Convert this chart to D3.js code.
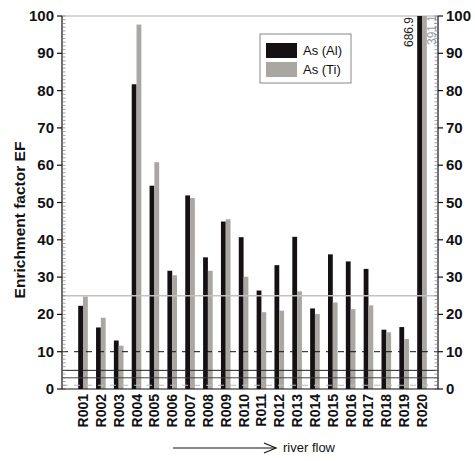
<!DOCTYPE html>
<html>
<head>
<meta charset="utf-8">
<script src="https://cdn.jsdelivr.net/npm/d3@7"></script>
<style>
  body { margin: 0; background: #fff; }
  text { font-family: "Liberation Sans", Arial, sans-serif; }
</style>
</head>
<body>
<svg id="chart" width="475" height="461"></svg>
<script>
// sample sites along the river
var sites = ["R001","R002","R003","R004","R005","R006","R007","R008","R009","R010",
             "R011","R012","R013","R014","R015","R016","R017","R018","R019","R020"];
// enrichment factor of As normalised to Al and to Ti
var asAl = [22.3, 16.5, 13.0, 81.7, 54.5, 31.7, 51.9, 35.3, 44.9, 40.7,
            26.4, 33.2, 40.8, 21.6, 36.1, 34.2, 32.2, 15.9, 16.6, 686.9];
var asTi = [24.8, 19.1, 11.6, 97.7, 60.8, 30.5, 51.2, 31.7, 45.5, 30.1,
            20.6, 21.0, 26.2, 20.1, 23.2, 21.4, 22.4, 15.2, 13.4, 391.1];
var yTicks = [0, 10, 20, 30, 40, 50, 60, 70, 80, 90, 100];
// reference levels drawn across the plot
var refLines = [
  {v: 25, color: "#c4c2bd", dash: null, w: 1.5},
  {v: 10, color: "#111", dash: "6,6", w: 1},
  {v: 5, color: "#222", dash: null, w: 1},
  {v: 3, color: "#444", dash: null, w: 1},
  {v: 1, color: "#bbb", dash: "6,6", w: 1}
];

var svg = d3.select("#chart");
var pLeft = 62, pRight = 438, pTop = 16, pBottom = 389;

var y = d3.scaleLinear().domain([0, 100]).range([pBottom, pTop]);
var x = d3.scalePoint().domain(sites).range([83, 422]);
var barW = 4.8;

// top border
svg.append("line").attr("x1", pLeft).attr("x2", pRight)
  .attr("y1", y(100)).attr("y2", y(100))
  .attr("stroke", "#c8c8c8").attr("stroke-width", 1.5);

svg.append("clipPath").attr("id", "clip").append("rect")
  .attr("x", pLeft).attr("y", pTop).attr("width", pRight - pLeft).attr("height", pBottom - pTop);

var g = svg.append("g").attr("clip-path", "url(#clip)");

var bars = sites.map(function(s, i) { return {site: s, al: asAl[i], ti: asTi[i]}; });

g.selectAll(".al").data(bars).enter().append("rect")
  .attr("x", function(d) { return x(d.site) - barW; })
  .attr("y", function(d) { return y(Math.min(d.al, 102)); })
  .attr("width", barW)
  .attr("height", function(d) { return pBottom - y(Math.min(d.al, 102)); })
  .attr("fill", "#141014");

g.selectAll(".ti").data(bars).enter().append("rect")
  .attr("x", function(d) { return x(d.site); })
  .attr("y", function(d) { return y(Math.min(d.ti, 102)); })
  .attr("width", barW)
  .attr("height", function(d) { return pBottom - y(Math.min(d.ti, 102)); })
  .attr("fill", "#aaa7a2");

// reference lines
svg.selectAll(".ref").data(refLines).enter().append("line")
  .attr("x1", pLeft).attr("x2", pRight)
  .attr("y1", function(d) { return y(d.v); }).attr("y2", function(d) { return y(d.v); })
  .attr("stroke", function(d) { return d.color; })
  .attr("stroke-width", function(d) { return d.w; })
  .attr("stroke-dasharray", function(d) { return d.dash; });

// labels for values beyond the scale
var last = bars[bars.length - 1];
svg.append("text")
  .attr("transform", "translate(" + (x(last.site) - barW - 4) + "," + (pTop + 1) + ") rotate(-90)")
  .attr("text-anchor", "end").attr("font-size", 12).attr("fill", "#222")
  .text(d3.format(".1f")(last.al));
svg.append("text")
  .attr("transform", "translate(" + (x(last.site) + barW + 9) + "," + (pTop - 1) + ") rotate(-90)")
  .attr("text-anchor", "end").attr("font-size", 12).attr("fill", "#9a9a9a")
  .text(d3.format(".1f")(last.ti));

// axes
var minor = d3.range(0, 101, 1);
function yAxis(gSel, side) {
  var xa = side === "left" ? pLeft : pRight;
  var dir = side === "left" ? -1 : 1;
  gSel.append("line").attr("x1", xa).attr("x2", xa).attr("y1", pTop).attr("y2", pBottom)
    .attr("stroke", "#111").attr("stroke-width", 1.2);
  gSel.selectAll(".mn").data(minor).enter().append("line")
    .attr("x1", xa).attr("x2", xa - dir * 3.5)
    .attr("y1", function(d) { return y(d); }).attr("y2", function(d) { return y(d); })
    .attr("stroke", "#777").attr("stroke-width", 0.7);
  gSel.selectAll(".mj").data(yTicks).enter().append("line")
    .attr("x1", xa).attr("x2", xa + dir * 5)
    .attr("y1", function(d) { return y(d); }).attr("y2", function(d) { return y(d); })
    .attr("stroke", "#111").attr("stroke-width", 1.2);
  gSel.selectAll(".lb").data(yTicks).enter().append("text")
    .attr("x", xa + dir * 8)
    .attr("y", function(d) { return y(d) + 5; })
    .attr("text-anchor", side === "left" ? "end" : "start")
    .attr("font-size", 15).attr("font-weight", "bold").attr("fill", "#111")
    .text(function(d) { return d; });
}
yAxis(svg.append("g"), "left");
yAxis(svg.append("g"), "right");

svg.append("line").attr("x1", pLeft).attr("x2", pRight).attr("y1", pBottom).attr("y2", pBottom)
  .attr("stroke", "#111").attr("stroke-width", 1.2);

// category labels
svg.selectAll(".xl").data(sites).enter().append("text")
  .attr("transform", function(d) { return "translate(" + (x(d) + 5) + "," + (pBottom + 5) + ") rotate(-90)"; })
  .attr("text-anchor", "end")
  .attr("font-size", 14).attr("font-weight", "bold").attr("fill", "#111")
  .text(function(d) { return d; });

svg.append("text")
  .attr("transform", "translate(25,220) rotate(-90)")
  .attr("text-anchor", "middle")
  .attr("font-size", 15.5).attr("font-weight", "bold").attr("fill", "#111")
  .text("Enrichment factor EF");

// river flow arrow
var ar = svg.append("g").attr("stroke", "#111").attr("stroke-width", 1.1).attr("fill", "none");
ar.append("line").attr("x1", 173).attr("x2", 276).attr("y1", 448).attr("y2", 448);
ar.append("polyline").attr("points", "264,443 276,448 264,453");
svg.append("text").attr("x", 283).attr("y", 452)
  .attr("font-size", 13).attr("fill", "#111").text("river flow");

// legend
var lg = svg.append("g");
lg.append("rect").attr("x", 260).attr("y", 34).attr("width", 91).attr("height", 49)
  .attr("fill", "#fff").attr("stroke", "#888").attr("stroke-width", 1);
var legendItems = [{name: "As (Al)", color: "#141014"}, {name: "As (Ti)", color: "#aaa7a2"}];
lg.selectAll(".sw").data(legendItems).enter().append("rect")
  .attr("x", 266).attr("y", function(d, i) { return 43 + i * 19; })
  .attr("width", 31).attr("height", 15)
  .attr("fill", function(d) { return d.color; });
lg.selectAll(".lt").data(legendItems).enter().append("text")
  .attr("x", 303).attr("y", function(d, i) { return 55 + i * 19; })
  .attr("font-size", 13).attr("fill", "#111")
  .text(function(d) { return d.name; });
</script>
</body>
</html>
